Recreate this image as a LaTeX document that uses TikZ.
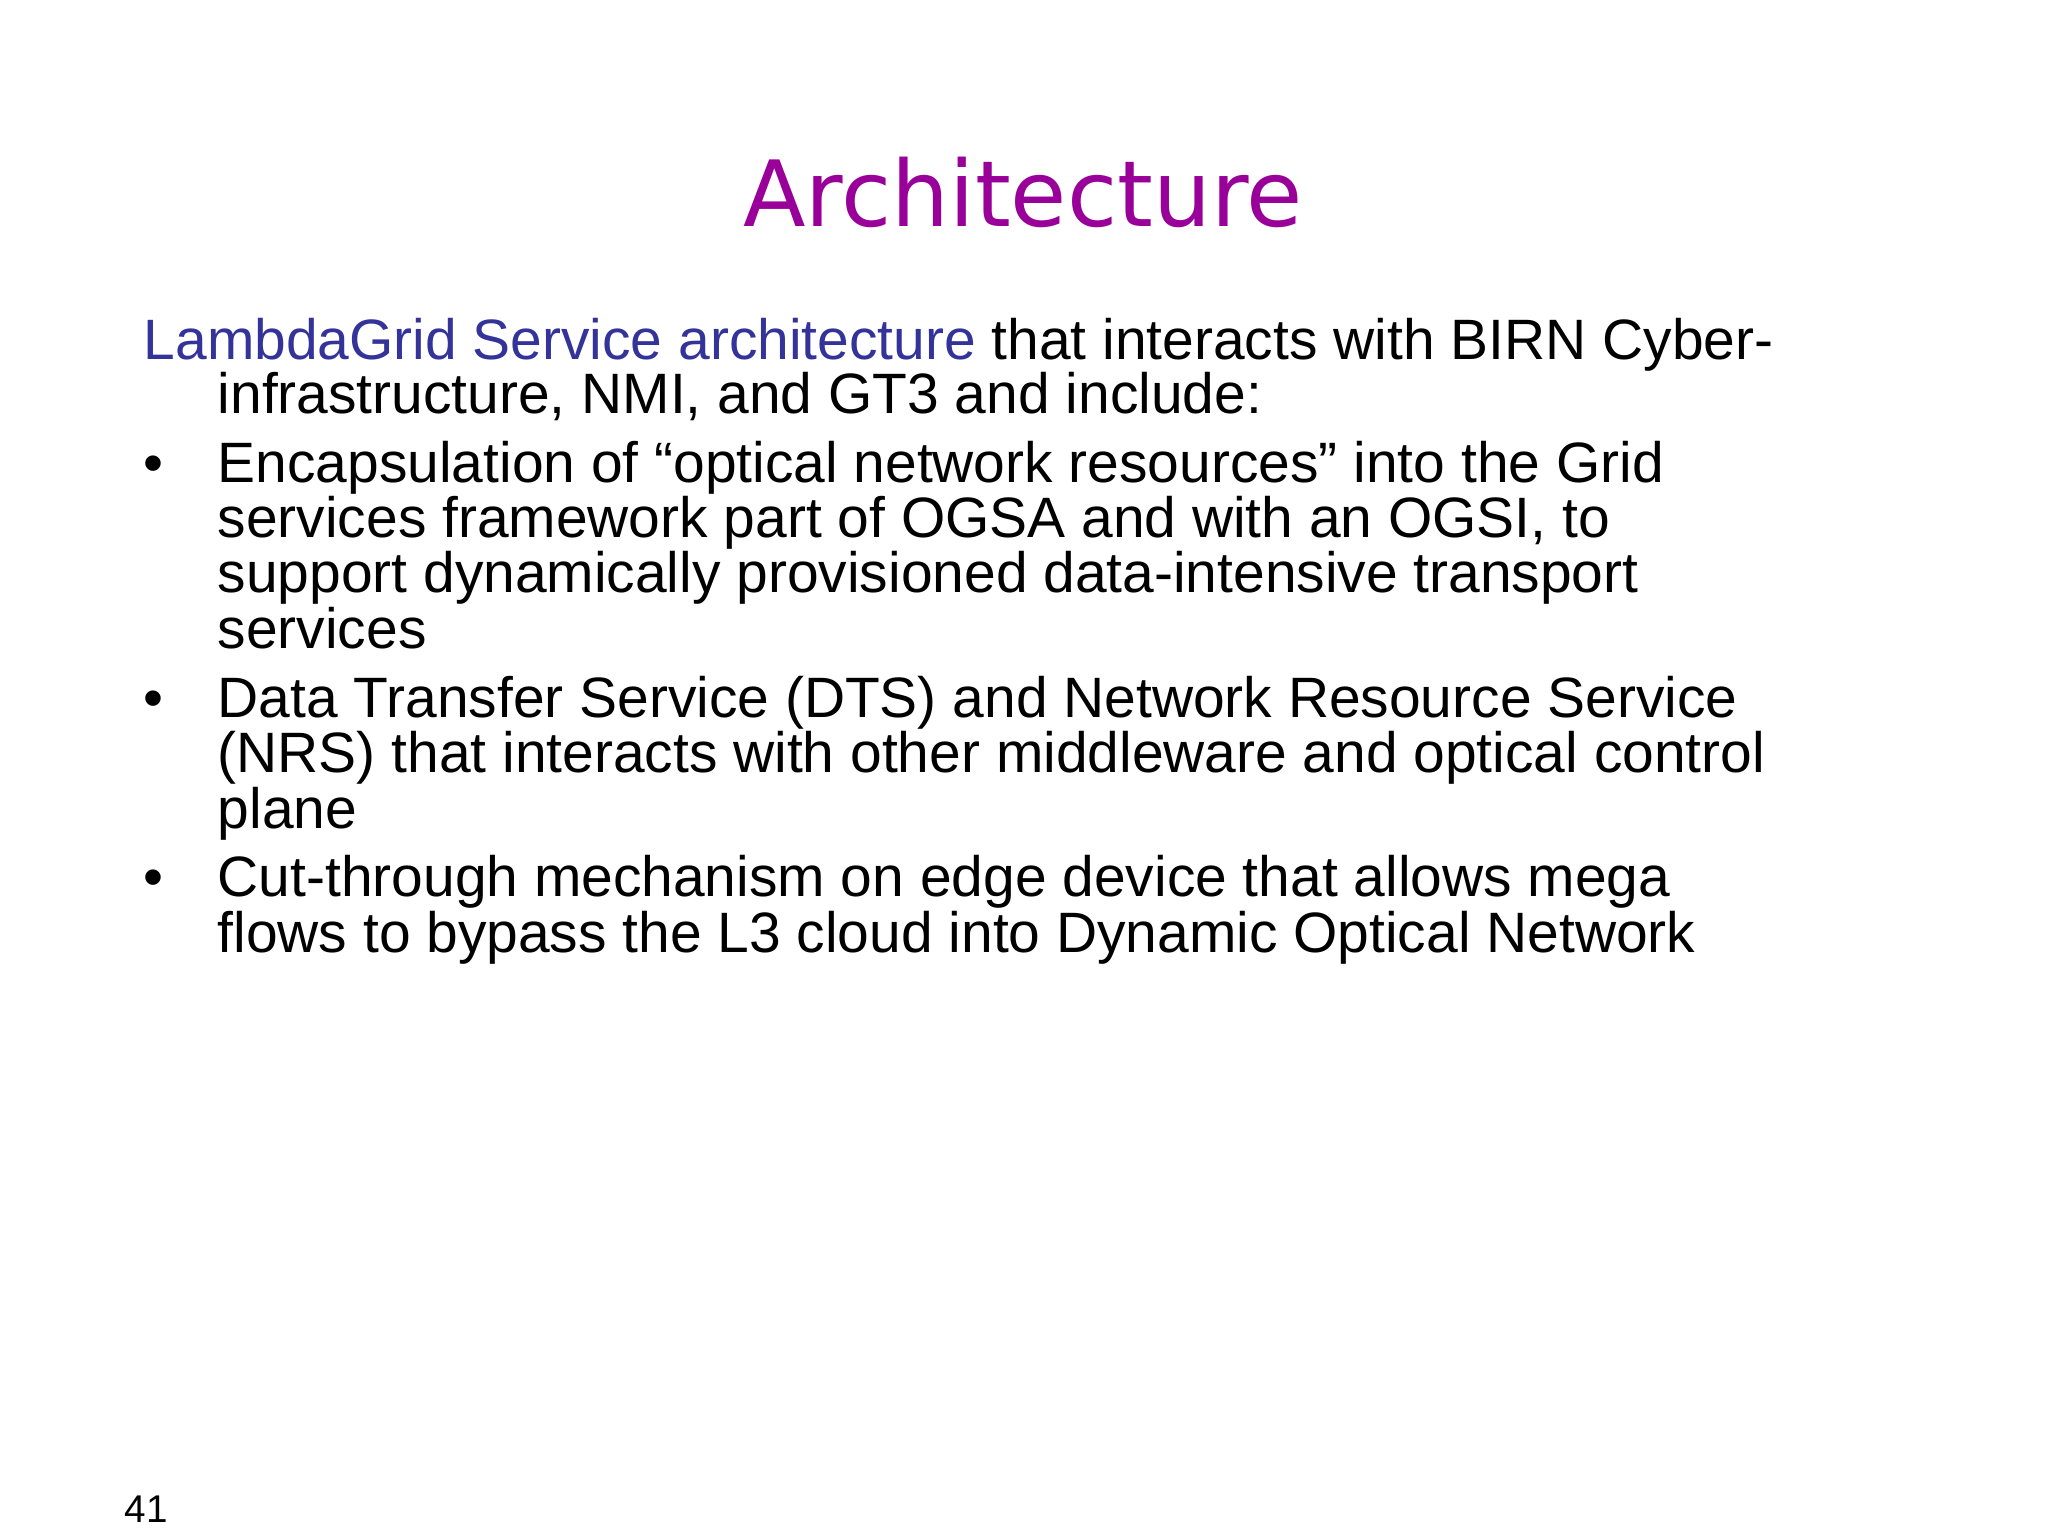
\documentclass[tikz,border=0pt]{standalone}
\usepackage{fontspec}
\setmainfont{Liberation Sans}
\newfontfamily\titlefont{DejaVu Sans}
\definecolor{ttl}{HTML}{990099}
\definecolor{lg}{HTML}{333399}
\begin{document}
\begin{tikzpicture}[x=1cm,y=1cm,
  ln/.style={anchor=base west,inner sep=0pt,font=\fontsize{16.2}{17}\selectfont},
  bul/.style={anchor=base west,inner sep=0pt,font=\fontsize{16.2}{17}\selectfont}]
\useasboundingbox[fill=white] (0,0) rectangle (20.48,-15.36);
\node[anchor=base,inner sep=0pt,font=\titlefont\fontsize{26}{30}\selectfont,text=ttl] (title) at (10.23,-2.27) {Architecture};
\node[ln] (l1) at (1.43,-3.595) {\textcolor{lg}{LambdaGrid Service architecture} that interacts with BIRN Cyber-};
\node[ln] (l2) at (2.17,-4.136) {infrastructure, NMI, and GT3 and include:};
\node[bul] (b1) at (1.43,-4.82) {•};
\node[ln] (l3) at (2.17,-4.82) {Encapsulation of “optical network resources” into the Grid};
\node[ln] (l4) at (2.17,-5.377) {services framework part of OGSA and with an OGSI, to};
\node[ln] (l5) at (2.17,-5.93) {support dynamically provisioned data-intensive transport};
\node[ln] (l6) at (2.17,-6.485) {services};
\node[bul] (b2) at (1.43,-7.17) {•};
\node[ln] (l7) at (2.17,-7.17) {Data Transfer Service (DTS) and Network Resource Service};
\node[ln] (l8) at (2.17,-7.726) {(NRS) that interacts with other middleware and optical control};
\node[ln] (l9) at (2.17,-8.28) {plane};
\node[bul] (b3) at (1.43,-8.966) {•};
\node[ln] (l10) at (2.17,-8.966) {Cut-through mechanism on edge device that allows mega};
\node[ln] (l11) at (2.17,-9.52) {flows to bypass the L3 cloud into Dynamic Optical Network};
\node[anchor=base west,inner sep=0pt,font=\fontsize{11}{13}\selectfont] (pg) at (1.24,-15.22) {41};
\end{tikzpicture}
\end{document}
